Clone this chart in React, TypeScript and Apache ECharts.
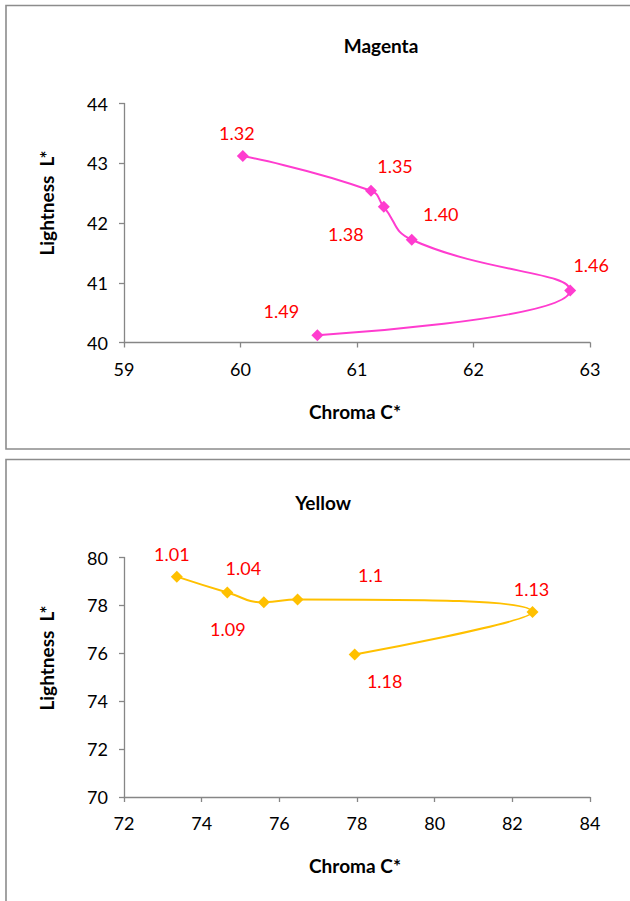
import React, { useEffect, useRef } from "react";
import * as echarts from "echarts";

// Magenta series
const magentaChroma = [60.02, 61.12, 61.23, 61.47, 62.83, 60.66];
const magentaLightness = [43.12, 42.54, 42.27, 41.72, 40.87, 40.12];
const magentaLabels = ["1.32", "1.35", "1.38", "1.40", "1.46", "1.49"];

// Yellow series
const yellowChroma = [73.36, 74.66, 75.6, 76.47, 82.52, 77.94];
const yellowLightness = [79.2, 78.54, 78.13, 78.25, 77.72, 75.95];
const yellowLabels = ["1.01", "1.04", "1.09", "1.1", "1.13", "1.18"];

// label placement offsets (style)
const magentaOffsets = [[-6, -23], [24, -25], [-38, 27], [29, -26], [21, -26], [-36, -24]];
const yellowOffsets = [[-5, -23], [16, -24], [-36, 27], [73, -24], [-1, -23], [30, 27]];

const FONT = "Lato, 'Open Sans', sans-serif";
const AXIS_COLOR = "#868686";

function buildData(xs: number[], ys: number[], labels: string[], offsets: number[][]) {
  return xs.map((x, i) => ({
    value: [x, ys[i]],
    name: labels[i],
    label: { offset: offsets[i] },
  }));
}

function axisCommon(margin: number) {
  return {
    axisLine: { show: true, onZero: false, lineStyle: { color: AXIS_COLOR, width: 1.3 } },
    axisTick: { show: true, inside: false, length: 5, lineStyle: { color: AXIS_COLOR, width: 1.3 } },
    splitLine: { show: false },
    axisLabel: { color: "#000", fontSize: 18, fontFamily: FONT, margin },
  };
}

const BOLD = `bold 19px ${FONT}`;

export default function App() {
  const ref = useRef<HTMLDivElement>(null);
  useEffect(() => {
    if (!ref.current) return;
    const chart = echarts.init(ref.current, null, { renderer: "svg" });
    const labelStyle = {
      show: true,
      position: "inside",
      formatter: (p: any) => p.name,
      color: "#ff0000",
      fontSize: 18,
      fontFamily: FONT,
    };
    const option: any = {
      animation: false,
      backgroundColor: "#fff",
      grid: [
        { left: 124, top: 103.5, width: 466, height: 239 },
        { left: 124, top: 557.5, width: 466, height: 239.5 },
      ],
      xAxis: [
        { gridIndex: 0, type: "value", min: 59, max: 63, interval: 1, ...axisCommon(17) },
        { gridIndex: 1, type: "value", min: 72, max: 84, interval: 2, ...axisCommon(17) },
      ],
      yAxis: [
        { gridIndex: 0, type: "value", min: 40, max: 44, interval: 1, ...axisCommon(16) },
        { gridIndex: 1, type: "value", min: 70, max: 80, interval: 2, ...axisCommon(16) },
      ],
      graphic: [
        { type: "rect", shape: { x: 6, y: 5.5, width: 640, height: 443.5 }, style: { fill: "none", stroke: "#8c8c8c", lineWidth: 1.6 }, silent: true },
        { type: "rect", shape: { x: 6, y: 459.5, width: 640, height: 460 }, style: { fill: "none", stroke: "#8c8c8c", lineWidth: 1.6 }, silent: true },
        { type: "text", x: 381, y: 45, style: { text: "Magenta", font: BOLD, fill: "#000", textAlign: "center", textVerticalAlign: "middle" } },
        { type: "text", x: 355, y: 411, style: { text: "Chroma C*", font: BOLD, fill: "#000", textAlign: "center", textVerticalAlign: "middle" } },
        { type: "text", x: 46, y: 203, rotation: Math.PI / 2, style: { text: "Lightness  L*", font: BOLD, fill: "#000", textAlign: "center", textVerticalAlign: "middle" } },
        { type: "text", x: 323, y: 502, style: { text: "Yellow", font: BOLD, fill: "#000", textAlign: "center", textVerticalAlign: "middle" } },
        { type: "text", x: 355, y: 865, style: { text: "Chroma C*", font: BOLD, fill: "#000", textAlign: "center", textVerticalAlign: "middle" } },
        { type: "text", x: 46, y: 658, rotation: Math.PI / 2, style: { text: "Lightness  L*", font: BOLD, fill: "#000", textAlign: "center", textVerticalAlign: "middle" } },
      ],
      series: [
        {
          type: "line",
          xAxisIndex: 0,
          yAxisIndex: 0,
          data: buildData(magentaChroma, magentaLightness, magentaLabels, magentaOffsets),
          smooth: 0.5,
          symbol: "diamond",
          symbolSize: 12,
          itemStyle: { color: "#ff3ccf" },
          lineStyle: { color: "#ff3ccf", width: 2 },
          label: labelStyle,
        },
        {
          type: "line",
          xAxisIndex: 1,
          yAxisIndex: 1,
          data: buildData(yellowChroma, yellowLightness, yellowLabels, yellowOffsets),
          smooth: 0.5,
          symbol: "diamond",
          symbolSize: 12,
          itemStyle: { color: "#ffc000" },
          lineStyle: { color: "#ffc000", width: 2 },
          label: labelStyle,
        },
      ],
    };
    chart.setOption(option);
    return () => chart.dispose();
  }, []);
  return (
    <div
      ref={ref}
      style={{ position: "absolute", left: 0, top: 0, width: 630, height: 901, background: "#fff" }}
    />
  );
}
